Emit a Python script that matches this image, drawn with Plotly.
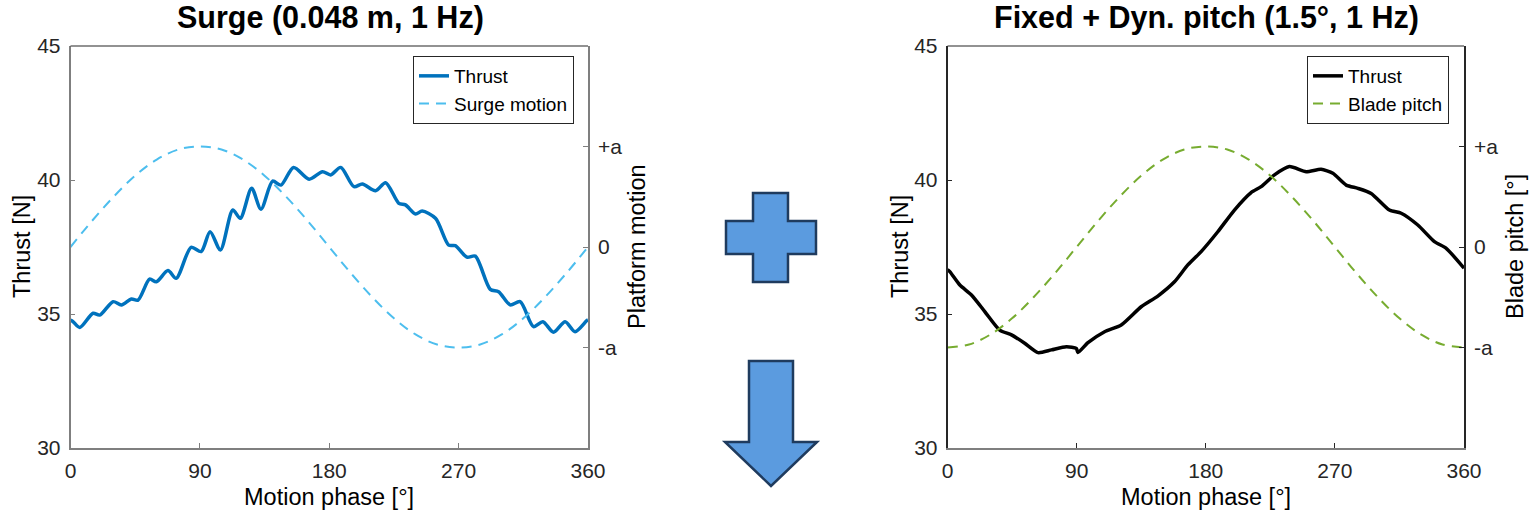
import plotly.graph_objects as go

W, H = 1530, 514

# ---------------- data ----------------
motion_phase = [0, 15, 30, 45, 60, 75, 90, 105, 120, 135, 150, 165, 180,
                195, 210, 225, 240, 255, 270, 285, 300, 315, 330, 345, 360]
surge_motion = [0.0, 0.26, 0.5, 0.71, 0.87, 0.97, 1.0, 0.97, 0.87, 0.71, 0.5, 0.26, 0.0,
                -0.26, -0.5, -0.71, -0.87, -0.97, -1.0, -0.97, -0.87, -0.71, -0.5, -0.26, 0.0]
blade_pitch = [-1.0, -0.97, -0.87, -0.71, -0.5, -0.26, 0.0, 0.26, 0.5, 0.71, 0.87, 0.97, 1.0,
               0.97, 0.87, 0.71, 0.5, 0.26, 0.0, -0.26, -0.5, -0.71, -0.87, -0.97, -1.0]

surge_phase = [0, 1.9, 6.5, 15.7, 20.3, 29.6, 35.4, 42.3, 47, 55, 59.7, 67.8, 73.5, 83.9,
               90.9, 97.1, 104.3, 112.9, 118.1, 126, 132.5, 140.6, 146.4, 155.2, 166,
               175.3, 181, 188, 197.2, 203, 212.2, 219.2, 228.4, 233, 240, 244.6, 253.9,
               263.1, 267.7, 275.8, 281.6, 292, 297.8, 305.9, 312.8, 322.1, 328.6, 336,
               344.1, 351, 359.1, 360]
surge_thrust = [34.78, 34.71, 34.5, 35.03, 34.96, 35.46, 35.34, 35.56, 35.52, 36.3, 36.2,
                36.62, 36.33, 37.49, 37.33, 38.07, 37.39, 38.88, 38.57, 39.69, 38.91, 39.96,
                39.81, 40.47, 40.03, 40.31, 40.19, 40.47, 39.75, 39.85, 39.6, 39.9, 39.13,
                39.07, 38.73, 38.84, 38.57, 37.57, 37.55, 37.12, 37.16, 35.92, 35.83, 35.34,
                35.46, 34.53, 34.71, 34.32, 34.71, 34.34, 34.75, 34.78]

pitch_phase = [0, 1.6, 8.6, 16.7, 26, 36.4, 44.6, 53.8, 63.1, 72.4, 82.8, 89.8, 90.9, 97.9,
               109.5, 121.1, 135, 146.6, 158.2, 167.5, 176.8, 188.4, 200, 211.6, 218.6,
               227.9, 238.3, 250, 260.4, 268.6, 277.9, 286, 295.3, 308, 316.2, 327.8,
               339.4, 347.6, 360]
pitch_thrust = [36.65, 36.58, 36.08, 35.71, 35.09, 34.40, 34.22, 33.91, 33.56, 33.66, 33.78,
                33.72, 33.56, 33.93, 34.34, 34.59, 35.27, 35.67, 36.2, 36.83, 37.33, 38.07,
                38.88, 39.53, 39.75, 40.19, 40.50, 40.31, 40.40, 40.25, 39.81, 39.69, 39.5,
                38.88, 38.76, 38.32, 37.70, 37.45, 36.71]

x_ticks = [0, 90, 180, 270, 360]
y_ticks = [30, 35, 40, 45]
motion_ticks = [-1, 0, 1]
motion_ticktext = ['-a', '0', '+a']

FONT = "Liberation Sans, Arial, sans-serif"
TXT = "#262626"
GRAY = "#7f7f7f"
DASH = "10px,7px"


def px(x):
    return x / W


def py(y):
    return 1 - y / H


# plot box pixel geometry
L1, R1 = 70.5, 588.0
L2, R2 = 947.5, 1464.0
TOP, BOT = 46.0, 448.0

fig = go.Figure()
fig.add_trace(go.Scatter(x=surge_phase, y=surge_thrust, name="Thrust", mode="lines",
                         line=dict(color="#0072BD", width=3.5, shape="spline", smoothing=0.8),
                         xaxis="x", yaxis="y", legend="legend"))
fig.add_trace(go.Scatter(x=motion_phase, y=surge_motion, name="Surge motion", mode="lines",
                         line=dict(color="#4DBEEE", width=2, dash=DASH, shape="spline"),
                         xaxis="x", yaxis="y2", legend="legend"))
fig.add_trace(go.Scatter(x=pitch_phase, y=pitch_thrust, name="Thrust", mode="lines",
                         line=dict(color="#000000", width=3.5, shape="spline", smoothing=0.6),
                         xaxis="x2", yaxis="y3", legend="legend2"))
fig.add_trace(go.Scatter(x=motion_phase, y=blade_pitch, name="Blade pitch", mode="lines",
                         line=dict(color="#77AC30", width=2, dash=DASH, shape="spline"),
                         xaxis="x2", yaxis="y4", legend="legend2"))

tickfont = dict(family=FONT, size=21, color=TXT)
common_x = dict(range=[0, 360], tickvals=x_ticks, ticks="inside", ticklen=5,
                showgrid=False, zeroline=False, showline=True, linewidth=1.5,
                tickfont=tickfont, ticklabelstandoff=3, automargin=False)
common_y = dict(range=[30, 45], tickvals=y_ticks, ticks="inside", ticklen=5,
                showgrid=False, zeroline=False, showline=True, linewidth=1.5,
                tickfont=tickfont, ticklabelstandoff=4, automargin=False,
                domain=[py(BOT), py(TOP)])
common_y2 = dict(range=[-2, 2], tickvals=motion_ticks, ticktext=motion_ticktext,
                 ticks="inside", ticklen=5, showgrid=False, zeroline=False, showline=True,
                 linewidth=1.5, tickfont=tickfont, ticklabelstandoff=4, side="right",
                 automargin=False)

legend_common = dict(yanchor="top", xanchor="left", bgcolor="white", bordercolor=TXT,
                     borderwidth=1, font=dict(family=FONT, size=19, color="#000000"),
                     tracegroupgap=0, itemwidth=30)

fig.update_layout(
    width=W, height=H, autosize=False,
    margin=dict(l=0, r=0, t=0, b=0, autoexpand=False),
    paper_bgcolor="white", plot_bgcolor="white",
    font=dict(family=FONT, color=TXT),
    xaxis=dict(domain=[px(L1), px(R1)], anchor="y", linecolor=GRAY, tickcolor=GRAY, **common_x),
    yaxis=dict(anchor="x", linecolor=GRAY, tickcolor=GRAY, **common_y),
    yaxis2=dict(anchor="x", overlaying="y", linecolor=GRAY, tickcolor=GRAY, **common_y2),
    xaxis2=dict(domain=[px(L2), px(R2)], anchor="y3", linecolor=GRAY, tickcolor=TXT, **common_x),
    yaxis3=dict(anchor="x2", linecolor=TXT, tickcolor=TXT, **common_y),
    yaxis4=dict(anchor="x2", overlaying="y3", linecolor=TXT, tickcolor=TXT, **common_y2),
    legend=dict(x=px(413), y=py(56), **legend_common),
    legend2=dict(x=px(1307), y=py(56), **legend_common),
)

# top box edges
for l, r in [(L1, R1), (L2, R2)]:
    fig.add_shape(type="line", xref="paper", yref="paper", x0=px(l), x1=px(r),
                  y0=py(TOP), y1=py(TOP), line=dict(color=TXT, width=1.2))

# annotations: titles and axis titles
ann = [
    ("<b>Surge (0.048 m, 1 Hz)</b>", (L1 + R1) / 2 + 1, 18, 0, 30.5),
    ("<b>Fixed + Dyn. pitch (1.5°, 1 Hz)</b>", (L2 + R2) / 2 + 1, 18, 0, 30.5),
    ("Motion phase [°]", (L1 + R1) / 2, 497, 0, 23.5),
    ("Motion phase [°]", (L2 + R2) / 2, 497, 0, 23.5),
    ("Thrust [N]", 22, 247, -90, 23.5),
    ("Platform motion", 637, 247, -90, 23.5),
    ("Thrust [N]", 900, 247, -90, 23.5),
    ("Blade pitch [°]", 1515, 247, -90, 23.5),
]
for text, x, y, ang, size in ann:
    fig.add_annotation(text=text, x=px(x), y=py(y), xref="paper", yref="paper",
                       showarrow=False, xanchor="center", yanchor="middle",
                       textangle=ang, font=dict(family=FONT, size=size, color="#000000"))


# decorative plus sign and down arrow between the panels
def path_from(points):
    s = "M " + " L ".join(f"{px(x):.5f},{py(y):.5f}" for x, y in points) + " Z"
    return s


plus_pts = [(753, 193), (788, 193), (788, 221), (816, 221), (816, 254), (788, 254),
            (788, 282), (753, 282), (753, 254), (726, 254), (726, 221), (753, 221)]
arrow_pts = [(749, 361), (793, 361), (793, 442), (817, 442), (771, 486), (725, 442),
             (749, 442)]
for pts in (plus_pts, arrow_pts):
    fig.add_shape(type="path", xref="paper", yref="paper", path=path_from(pts),
                  fillcolor="#5B9BDF", line=dict(color="#1F3B5E", width=2.5))

fig.write_html("out.html")
